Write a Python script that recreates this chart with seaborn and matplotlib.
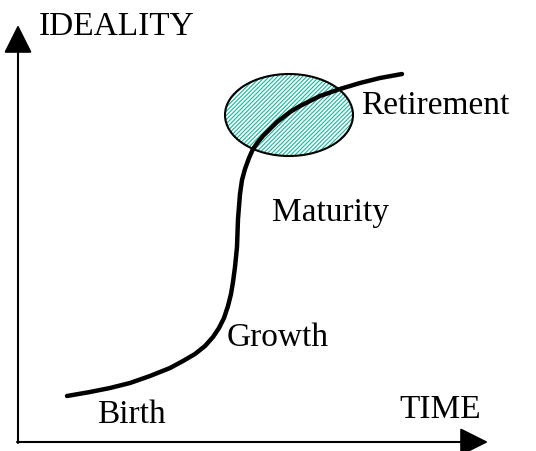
import matplotlib
matplotlib.use("Agg")
import matplotlib.pyplot as plt
from matplotlib.patches import Ellipse
import pandas as pd
import seaborn as sns

# S-curve (pixel units, y grows downward)
curve_x = [67, 90, 110, 130, 150, 170, 183, 195, 205, 213, 219, 224, 228, 231, 233, 235, 237, 238, 240, 242, 245, 249, 253, 258, 263, 270, 277, 290, 300, 320, 340, 360, 380, 402]
curve_y = [397, 393, 389, 384, 377, 369, 362, 355, 347, 338, 329, 319, 307, 295, 283, 268, 248, 220, 195, 181, 170, 159, 150, 143, 137, 130, 123, 113, 107, 97, 90, 84, 79, 75]

# stage labels
stage_names = ["Birth", "Growth", "Maturity", "Retirement"]
stage_x = [97, 227, 272, 361]
stage_y = [415, 338, 213, 106]

# highlighted region
ell_center = (289, 116)
ell_w, ell_h = 128, 82

sns.set_style("white")
plt.rcParams['font.family'] = ['Liberation Serif', 'DejaVu Serif']
plt.rcParams['hatch.linewidth'] = 0.8

fig = plt.figure(figsize=(5.36, 4.52), dpi=100)
ax = fig.add_axes([0, 0, 1, 1])

# hatched ellipse
ax.add_patch(Ellipse(ell_center, ell_w, ell_h, facecolor="white",
                     edgecolor="#10b89c", hatch="////////", lw=0, zorder=1))
ax.add_patch(Ellipse(ell_center, ell_w, ell_h, facecolor="none",
                     edgecolor="black", lw=1.5, zorder=2))

df = pd.DataFrame({"x": curve_x, "y": curve_y})
sns.lineplot(data=df, x="x", y="y", sort=False, color="black", lw=3.2,
             ax=ax, zorder=3)
ax.set_xlim(0, 536)
ax.set_ylim(452, 0)
ax.axis("off")

# axes arrows
arrow = dict(arrowstyle="-|>,head_length=1.1,head_width=0.55", color="black",
             lw=1.5, shrinkA=0, shrinkB=0, mutation_scale=16)
ax.annotate("", xy=(18, 26), xytext=(18, 444), arrowprops=arrow)
ax.annotate("", xy=(488, 443), xytext=(17, 443), arrowprops=arrow)

for name, x, y in zip(stage_names, stage_x, stage_y):
    ax.text(x, y, name, fontsize=24, va="center", ha="left", color="black")
ax.text(39, 27, "IDEALITY", fontsize=24, va="center", ha="left", color="black")
ax.text(399, 410, "TIME", fontsize=24, va="center", ha="left", color="black")

fig.savefig("out.png", dpi=100)
